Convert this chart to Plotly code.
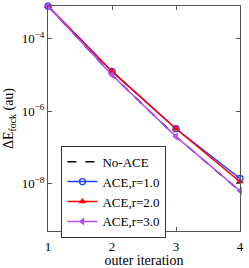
import plotly.graph_objects as go

iters = [1, 2, 3, 4]
no_ace = [7.9e-4, 1.0e-5, 2.0e-7, 6.3e-9]
ace_r1 = [7.9e-4, 1.25e-5, 3.3e-7, 1.4e-8]
ace_r2 = [7.9e-4, 1.25e-5, 3.3e-7, 1.15e-8]
ace_r3 = [7.9e-4, 1.0e-5, 2.0e-7, 6.4e-9]

font = "Liberation Serif"
fig = go.Figure()
fig.add_trace(go.Scatter(x=iters, y=no_ace, name="No-ACE", mode="lines", cliponaxis=False,
                         line=dict(color="black", width=1.5, dash="dash")))
fig.add_trace(go.Scatter(x=iters, y=ace_r1, name="ACE,r=1.0", mode="lines+markers", cliponaxis=False,
                         line=dict(color="#1f3fff", width=1.5),
                         marker=dict(symbol="circle-open", size=6, color="#1f3fff", line=dict(width=1.3))))
fig.add_trace(go.Scatter(x=iters, y=ace_r2, name="ACE,r=2.0", mode="lines+markers", cliponaxis=False,
                         line=dict(color="#ff0000", width=1.5),
                         marker=dict(symbol="triangle-up", size=7, color="#ff0000")))
fig.add_trace(go.Scatter(x=iters, y=ace_r3, name="ACE,r=3.0", mode="lines+markers", cliponaxis=False,
                         line=dict(color="#b44cff", width=1.5),
                         marker=dict(symbol="triangle-left", size=7, color="#b44cff")))

axis_common = dict(showline=True, linecolor="#555555", linewidth=1, mirror="ticks",
                   ticks="inside", ticklen=4, tickcolor="#555555", showgrid=False,
                   zeroline=False, tickfont=dict(family=font, size=13, color="black"))
fig.update_xaxes(range=[1, 4], tickvals=[1, 2, 3, 4], ticklabelstandoff=3,
                 title=dict(text="outer iteration", font=dict(family=font, size=14, color="black"), standoff=0),
                 **axis_common)
fig.update_yaxes(type="log", range=[-9.3, -3.1], tickvals=[1e-4, 1e-6, 1e-8],
                 ticktext=["10<sup>−4</sup>", "10<sup>−6</sup>", "10<sup>−8</sup>"],
                 title=dict(text="ΔE<sub>fock</sub> (au)", font=dict(family=font, size=14, color="black"), standoff=4),
                 **axis_common)
fig.update_layout(width=249, height=268, margin=dict(l=48, r=8, t=5, b=29),
                  plot_bgcolor="white", paper_bgcolor="white",
                  font=dict(family=font, size=13, color="black"),
                  legend=dict(x=0.07, y=-0.03, xanchor="left", yanchor="bottom",
                              bordercolor="#333333", borderwidth=1, bgcolor="white",
                              font=dict(family=font, size=13), tracegroupgap=0,
                              itemwidth=30))
fig.write_html("out.html", config={"displayModeBar": False},
               post_script="document.body.style.margin='0';")
